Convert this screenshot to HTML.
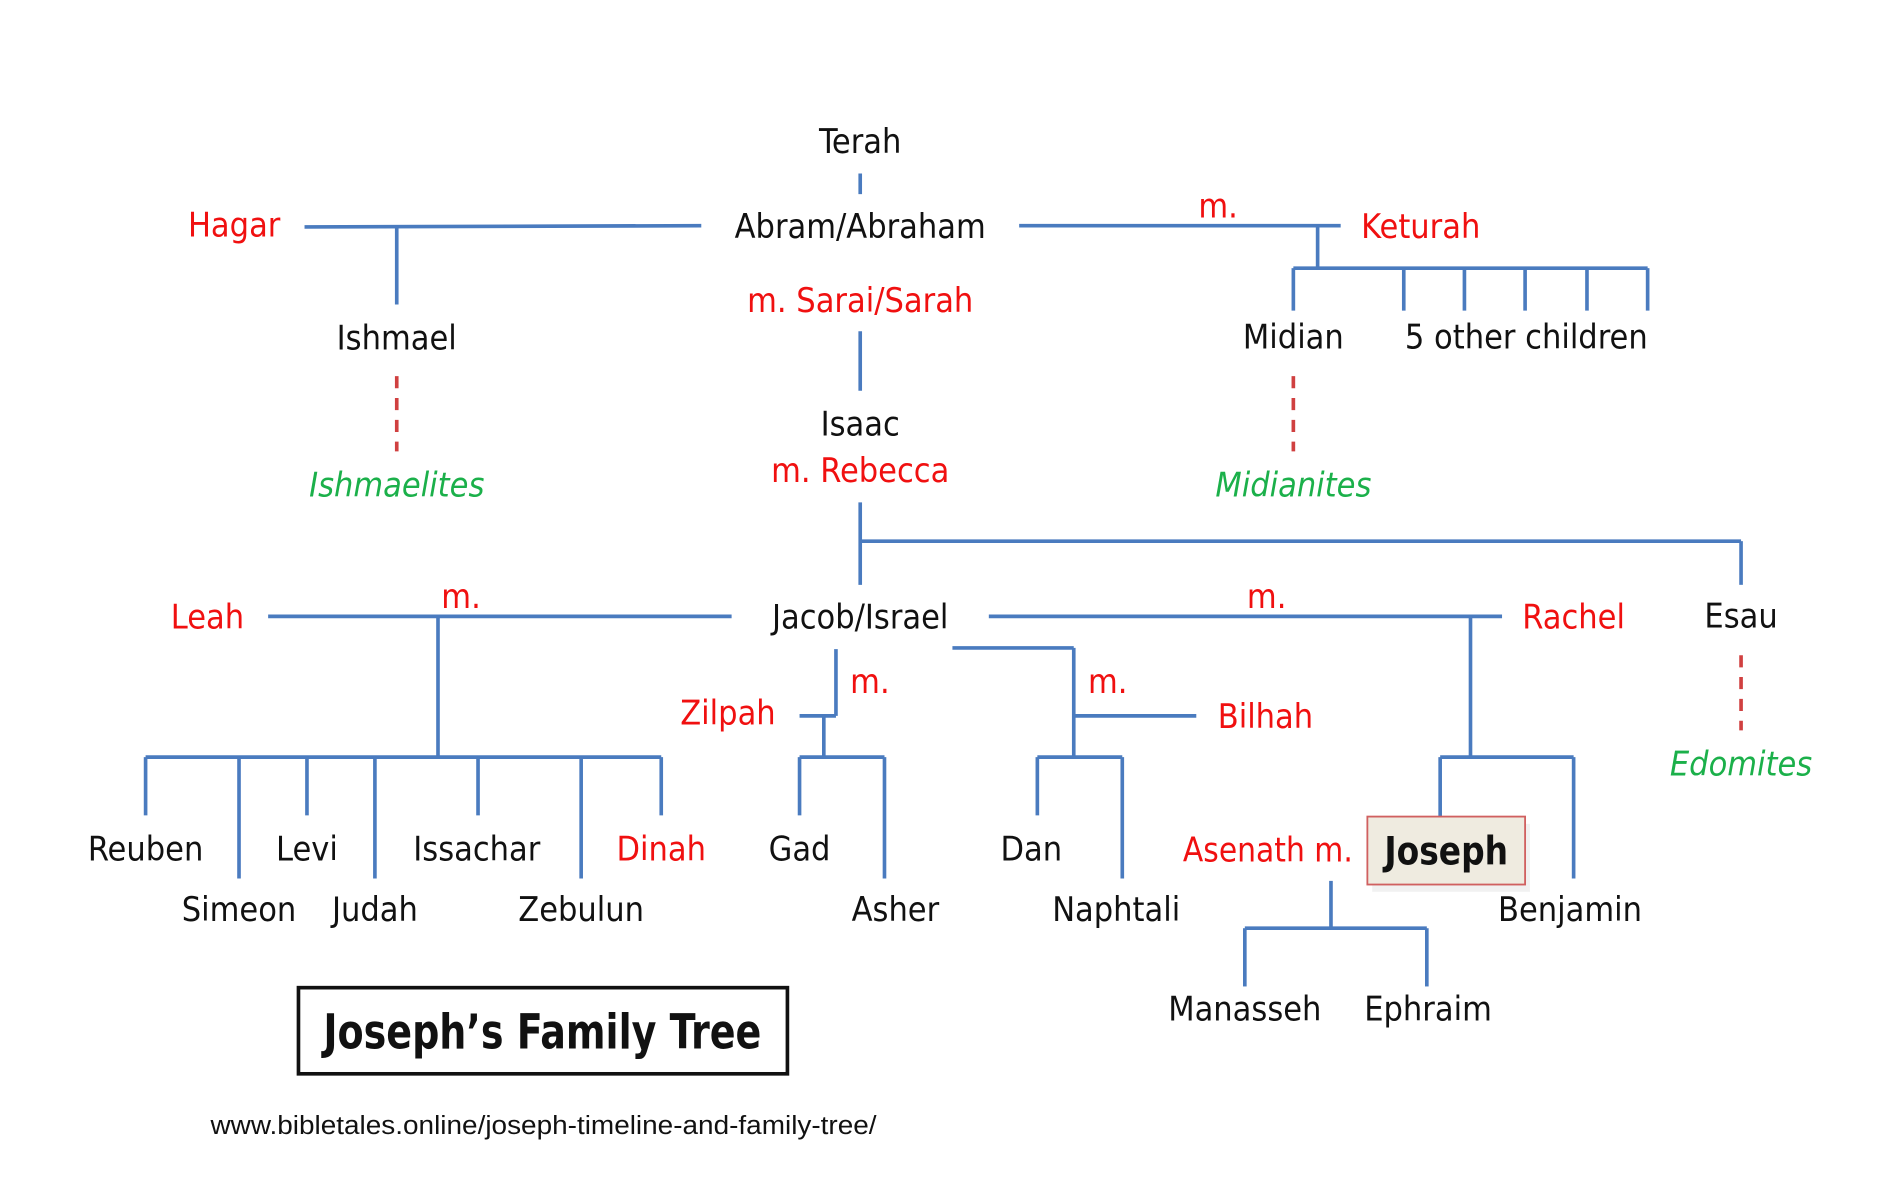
<!DOCTYPE html>
<html><head><meta charset="utf-8"><style>
html,body{margin:0;padding:0;background:#fff;width:1900px;height:1200px;overflow:hidden}
svg{display:block}
text{font-family:"Liberation Sans Narrow","DejaVu Sans Condensed","Liberation Sans",sans-serif;font-size:28px;text-anchor:middle;dominant-baseline:central;fill:#111}
.r{fill:#f01010}.g{fill:#1bb04a;font-style:italic}
line{stroke:#4a7bbf;stroke-width:3}
.d{stroke:#d04040;stroke-dasharray:10 8}
</style></head><body>
<svg width="1900" height="1200" viewBox="0 0 1566 989" preserveAspectRatio="none">
<g>
<line x1="709" y1="143" x2="709" y2="160"/>
<line x1="251" y1="187" x2="578" y2="186"/>
<line x1="327" y1="187" x2="327" y2="251"/>
<line x1="840" y1="186" x2="1105" y2="186"/>
<line x1="1086" y1="186" x2="1086" y2="221"/>
<line x1="1066" y1="221" x2="1358" y2="221"/>
<line x1="1066" y1="221" x2="1066" y2="256"/>
<line x1="1157" y1="221" x2="1157" y2="256"/>
<line x1="1207" y1="221" x2="1207" y2="256"/>
<line x1="1257" y1="221" x2="1257" y2="256"/>
<line x1="1308" y1="221" x2="1308" y2="256"/>
<line x1="1358" y1="221" x2="1358" y2="256"/>
<line x1="709" y1="273" x2="709" y2="322"/>
<line x1="709" y1="414" x2="709" y2="482"/>
<line x1="709" y1="446" x2="1435" y2="446"/>
<line x1="1435" y1="446" x2="1435" y2="482"/>
<line x1="221" y1="508" x2="603" y2="508"/>
<line x1="361" y1="508" x2="361" y2="624"/>
<line x1="120" y1="624" x2="545" y2="624"/>
<line x1="120" y1="624" x2="120" y2="672"/>
<line x1="197" y1="624" x2="197" y2="724"/>
<line x1="253" y1="624" x2="253" y2="672"/>
<line x1="309" y1="624" x2="309" y2="724"/>
<line x1="394" y1="624" x2="394" y2="672"/>
<line x1="479" y1="624" x2="479" y2="724"/>
<line x1="545" y1="624" x2="545" y2="672"/>
<line x1="815" y1="508" x2="1238" y2="508"/>
<line x1="1212" y1="508" x2="1212" y2="624"/>
<line x1="1187" y1="624" x2="1297" y2="624"/>
<line x1="1187" y1="624" x2="1187" y2="673"/>
<line x1="1297" y1="624" x2="1297" y2="724"/>
<line x1="1097" y1="726" x2="1097" y2="765"/>
<line x1="1026" y1="765" x2="1176" y2="765"/>
<line x1="1026" y1="765" x2="1026" y2="813"/>
<line x1="1176" y1="765" x2="1176" y2="813"/>
<line x1="689" y1="535" x2="689" y2="590"/>
<line x1="659" y1="590" x2="689" y2="590"/>
<line x1="679" y1="590" x2="679" y2="624"/>
<line x1="659" y1="624" x2="729" y2="624"/>
<line x1="659" y1="624" x2="659" y2="672"/>
<line x1="729" y1="624" x2="729" y2="724"/>
<line x1="785" y1="534" x2="885" y2="534"/>
<line x1="885" y1="534" x2="885" y2="624"/>
<line x1="885" y1="590" x2="986" y2="590"/>
<line x1="855" y1="624" x2="925" y2="624"/>
<line x1="855" y1="624" x2="855" y2="672"/>
<line x1="925" y1="624" x2="925" y2="724"/>
<line class="d" x1="327" y1="310" x2="327" y2="372"/>
<line class="d" x1="1066" y1="310" x2="1066" y2="372"/>
<line class="d" x1="1435" y1="540" x2="1435" y2="602"/>
</g>
<rect x="1131" y="679" width="130" height="56" fill="#e8e8e8" opacity="0.6"/>
<rect x="1127" y="673" width="130" height="56" fill="#efebe0" stroke="#d06060" stroke-width="1.5"/>
<text x="709" y="117">Terah</text>
<text x="709" y="187">Abram/Abraham</text>
<text class="r" x="193" y="186">Hagar</text>
<text class="r" x="1004" y="170">m.</text>
<text class="r" x="1171" y="187">Keturah</text>
<text x="327" y="279">Ishmael</text>
<text x="1066" y="278">Midian</text>
<text x="1258" y="278">5 other children</text>
<text class="r" x="709" y="248">m. Sarai/Sarah</text>
<text x="709" y="350">Isaac</text>
<text class="r" x="709" y="388">m. Rebecca</text>
<text class="g" x="327" y="400">Ishmaelites</text>
<text class="g" x="1066" y="400">Midianites</text>
<text x="709" y="509">Jacob/Israel</text>
<text class="r" x="171" y="509">Leah</text>
<text class="r" x="380" y="492">m.</text>
<text class="r" x="1044" y="492">m.</text>
<text class="r" x="1297" y="509">Rachel</text>
<text x="1435" y="508">Esau</text>
<text class="g" x="1435" y="630">Edomites</text>
<text class="r" x="717" y="562">m.</text>
<text class="r" x="600" y="588">Zilpah</text>
<text class="r" x="913" y="562">m.</text>
<text class="r" x="1043" y="591">Bilhah</text>
<text x="120" y="700">Reuben</text>
<text x="197" y="750">Simeon</text>
<text x="253" y="700">Levi</text>
<text x="309" y="750">Judah</text>
<text x="393" y="700">Issachar</text>
<text x="479" y="750">Zebulun</text>
<text class="r" x="545" y="700">Dinah</text>
<text x="659" y="700">Gad</text>
<text x="738" y="750">Asher</text>
<text x="850" y="700">Dan</text>
<text x="920" y="750">Naphtali</text>
<text class="r" x="1045" y="701" textLength="140" lengthAdjust="spacingAndGlyphs">Asenath m.</text>
<text x="1192" y="702" style="font-weight:bold;font-size:32px" textLength="102" lengthAdjust="spacingAndGlyphs">Joseph</text>
<text x="1294" y="750">Benjamin</text>
<text x="1026" y="832">Manasseh</text>
<text x="1177" y="832">Ephraim</text>
<rect x="246" y="814" width="403" height="71" fill="none" stroke="#111" stroke-width="3"/>
<text x="447" y="851" style="font-weight:bold;font-size:40px" textLength="361" lengthAdjust="spacingAndGlyphs">Joseph’s Family Tree</text>
<text x="448" y="928" style="font-family:'Liberation Sans',sans-serif;font-size:21px" textLength="549" lengthAdjust="spacingAndGlyphs">www.bibletales.online/joseph-timeline-and-family-tree/</text>
</svg>
</body></html>
